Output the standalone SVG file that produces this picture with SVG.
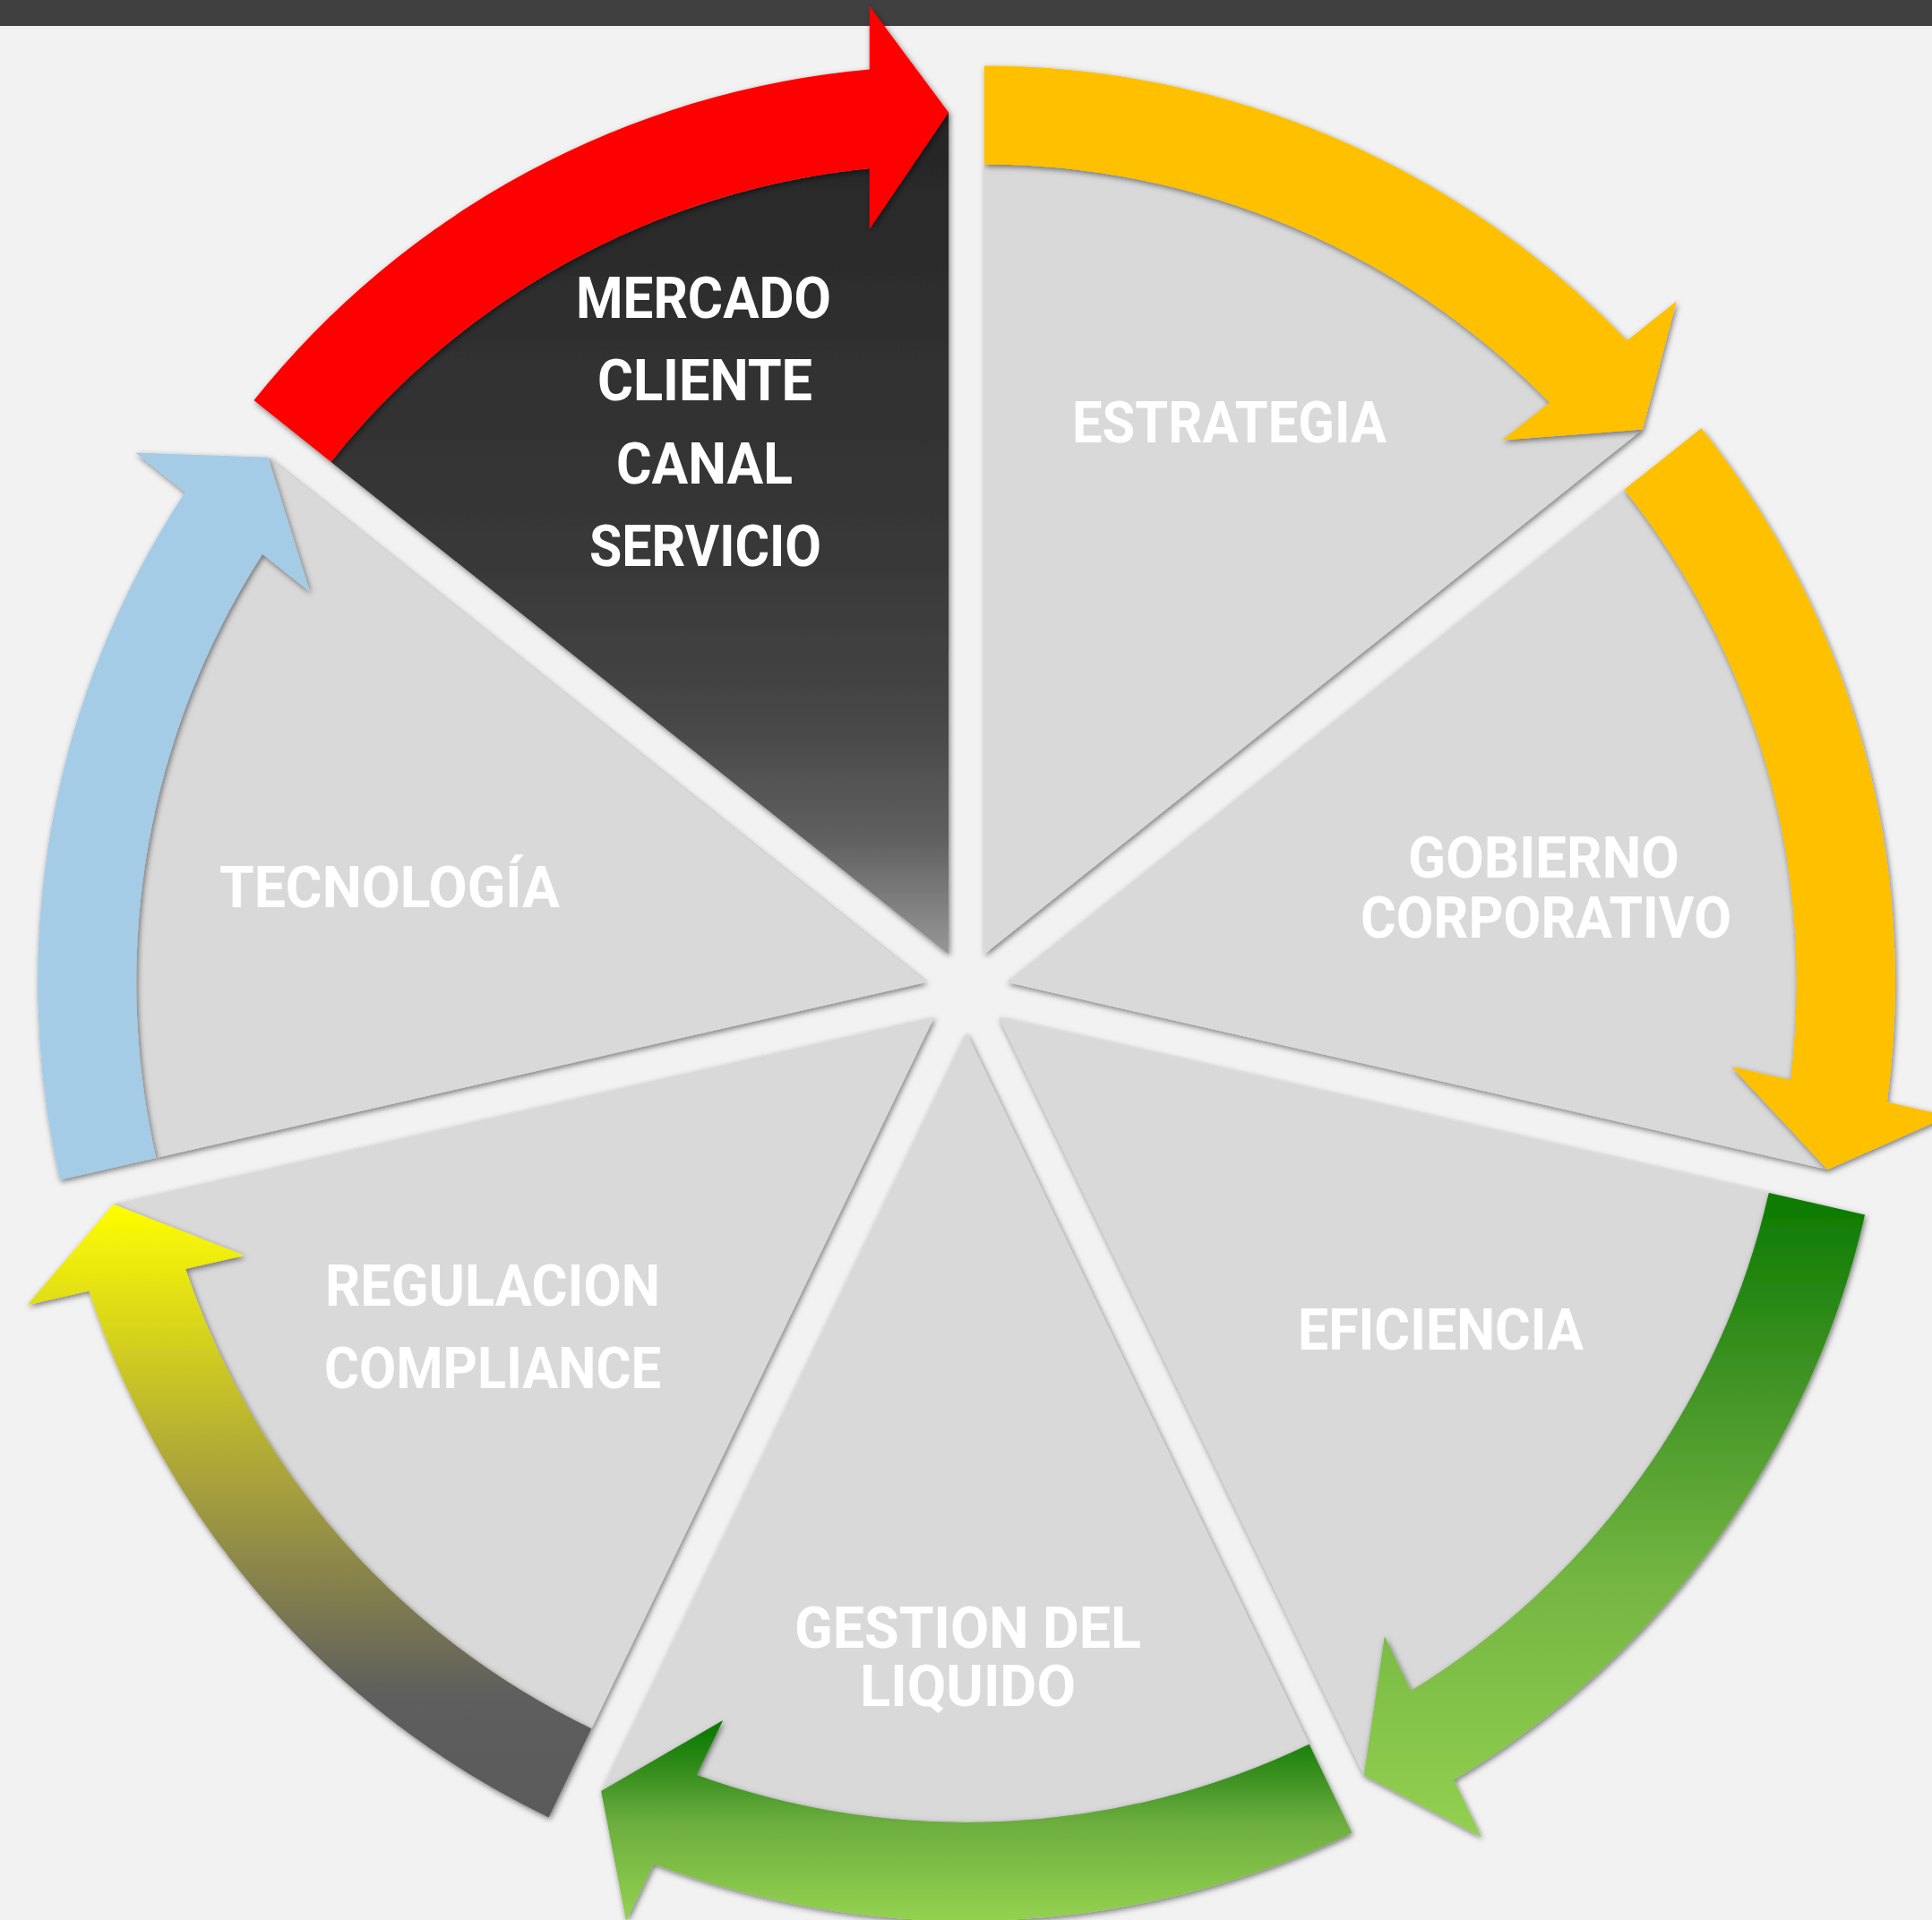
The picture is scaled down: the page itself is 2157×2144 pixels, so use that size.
<svg xmlns="http://www.w3.org/2000/svg" width="2157" height="2144" viewBox="0 0 2157 2144">
<defs>
<style>
.w{fill:#d9d9d9}
.t{font-family:Roboto,"Liberation Sans",Arial,sans-serif;font-weight:700;font-size:64px;fill:#ffffff;text-anchor:middle}
</style>
<filter id="sh" x="-10%" y="-10%" width="120%" height="120%">
<feDropShadow dx="1.5" dy="2.5" stdDeviation="3" flood-color="#000" flood-opacity="0.5"/>
</filter>
<linearGradient id="gDark" gradientUnits="userSpaceOnUse" x1="0" y1="184" x2="0" y2="1066" gradientTransform="rotate(141.4286) translate(-1059.04,-1065.55)">
<stop offset="0" stop-color="#282828"/>
<stop offset="0.5" stop-color="#383838"/>
<stop offset="0.7" stop-color="#464646"/>
<stop offset="0.85" stop-color="#5f5f5f"/>
<stop offset="1" stop-color="#979797"/>
</linearGradient>
<linearGradient id="gEf" gradientUnits="userSpaceOnUse" x1="0" y1="1332" x2="0" y2="2052" gradientTransform="rotate(-12.8571) translate(-1114.96,-1135.68)">
<stop offset="0" stop-color="#0a7a00"/>
<stop offset="0.3" stop-color="#429426"/>
<stop offset="0.6" stop-color="#74b642"/>
<stop offset="1" stop-color="#92d050"/>
</linearGradient>
<linearGradient id="gGe" gradientUnits="userSpaceOnUse" x1="0" y1="1930" x2="0" y2="2140" gradientTransform="rotate(-64.2857) translate(-1079,-1153)">
<stop offset="0" stop-color="#0a7a00"/>
<stop offset="0.25" stop-color="#3a9020"/>
<stop offset="0.5" stop-color="#6cae3e"/>
<stop offset="1" stop-color="#92d050"/>
</linearGradient>
<linearGradient id="gRe" gradientUnits="userSpaceOnUse" x1="0" y1="1343" x2="0" y2="2030" gradientTransform="rotate(-115.7143) translate(-1043.04,-1135.68)">
<stop offset="0" stop-color="#ffff00"/>
<stop offset="0.45" stop-color="#a9a23c"/>
<stop offset="0.8" stop-color="#5e5e5e"/>
<stop offset="1" stop-color="#5a5a5a"/>
</linearGradient>
<path id="wedgeShape" d="M0,0 L882,0 A882,882 0 0 1 612.37,634.76 L586.08,734.92 Z"/>
<path id="arrowShape" d="M992,0 A992,992 0 0 1 685.04,717.45 L729.19,772.8 L586.08,734.92 L573.94,578.12 L616.15,631.05 A882,882 0 0 0 882,0 Z"/>
</defs>
<rect x="0" y="0" width="2157" height="2144" fill="#f2f2f2"/>
<rect x="0" y="0" width="2157" height="29" fill="#404040"/>

<g id="nodes">
<g id="node-mercado">
<g filter="url(#sh)"><use href="#wedgeShape" transform="translate(1059.04,1065.55) rotate(-141.4286)" fill="url(#gDark)"/></g>
<text class="t" x="785.5" y="355" textLength="285" lengthAdjust="spacingAndGlyphs">MERCADO</text>
<text class="t" x="787" y="447" textLength="240" lengthAdjust="spacingAndGlyphs">CLIENTE</text>
<text class="t" x="786.5" y="540" textLength="197" lengthAdjust="spacingAndGlyphs">CANAL</text>
<text class="t" x="787.5" y="632" textLength="259" lengthAdjust="spacingAndGlyphs">SERVICIO</text>
</g>
<g id="node-estrategia">
<g filter="url(#sh)"><use href="#wedgeShape" class="w" transform="translate(1098.96,1065.55) rotate(-90)"/></g>
<text class="t" x="1372.5" y="494" textLength="351" lengthAdjust="spacingAndGlyphs">ESTRATEGIA</text>
</g>
<g id="node-gobierno">
<g filter="url(#sh)"><use href="#wedgeShape" class="w" transform="translate(1123.85,1096.76) rotate(-38.5714)"/></g>
<text class="t" x="1723.5" y="980" textLength="303" lengthAdjust="spacingAndGlyphs">GOBIERNO</text>
<text class="t" x="1726" y="1047" textLength="414" lengthAdjust="spacingAndGlyphs">CORPORATIVO</text>
</g>
<g id="node-eficiencia">
<g filter="url(#sh)"><use href="#wedgeShape" class="w" transform="translate(1114.96,1135.68) rotate(12.8571)"/></g>
<text class="t" x="1608.5" y="1507" textLength="319" lengthAdjust="spacingAndGlyphs">EFICIENCIA</text>
</g>
<g id="node-gestion">
<g filter="url(#sh)"><use href="#wedgeShape" class="w" transform="translate(1079,1153) rotate(64.2857)"/></g>
<text class="t" x="1080.5" y="1840" textLength="387" lengthAdjust="spacingAndGlyphs">GESTION DEL</text>
<text class="t" x="1080.5" y="1905" textLength="241" lengthAdjust="spacingAndGlyphs">LIQUIDO</text>
</g>
<g id="node-regulacion">
<g filter="url(#sh)"><use href="#wedgeShape" class="w" transform="translate(1043.04,1135.68) rotate(115.7143)"/></g>
<text class="t" x="550" y="1458" textLength="374" lengthAdjust="spacingAndGlyphs">REGULACION</text>
<text class="t" x="550" y="1550" textLength="376" lengthAdjust="spacingAndGlyphs">COMPLIANCE</text>
</g>
<g id="node-tecnologia">
<g filter="url(#sh)"><use href="#wedgeShape" class="w" transform="translate(1034.15,1096.76) rotate(167.1429)"/></g>
<text class="t" x="435" y="1013" textLength="380" lengthAdjust="spacingAndGlyphs">TECNOLOGÍA</text>
</g>
</g>

<g id="connectors">
<g filter="url(#sh)"><use href="#arrowShape" transform="translate(1059.04,1065.55) rotate(-141.4286)" fill="#ff0000"/></g>
<g filter="url(#sh)"><use href="#arrowShape" transform="translate(1098.96,1065.55) rotate(-90)" fill="#ffc000"/></g>
<g filter="url(#sh)"><use href="#arrowShape" transform="translate(1123.85,1096.76) rotate(-38.5714)" fill="#ffc000"/></g>
<g filter="url(#sh)"><use href="#arrowShape" transform="translate(1114.96,1135.68) rotate(12.8571)" fill="url(#gEf)"/></g>
<g filter="url(#sh)"><use href="#arrowShape" transform="translate(1079,1153) rotate(64.2857)" fill="url(#gGe)"/></g>
<g filter="url(#sh)"><use href="#arrowShape" transform="translate(1043.04,1135.68) rotate(115.7143)" fill="url(#gRe)"/></g>
<g filter="url(#sh)"><use href="#arrowShape" transform="translate(1034.15,1096.76) rotate(167.1429)" fill="#a4cce7"/></g>
</g>
</svg>
